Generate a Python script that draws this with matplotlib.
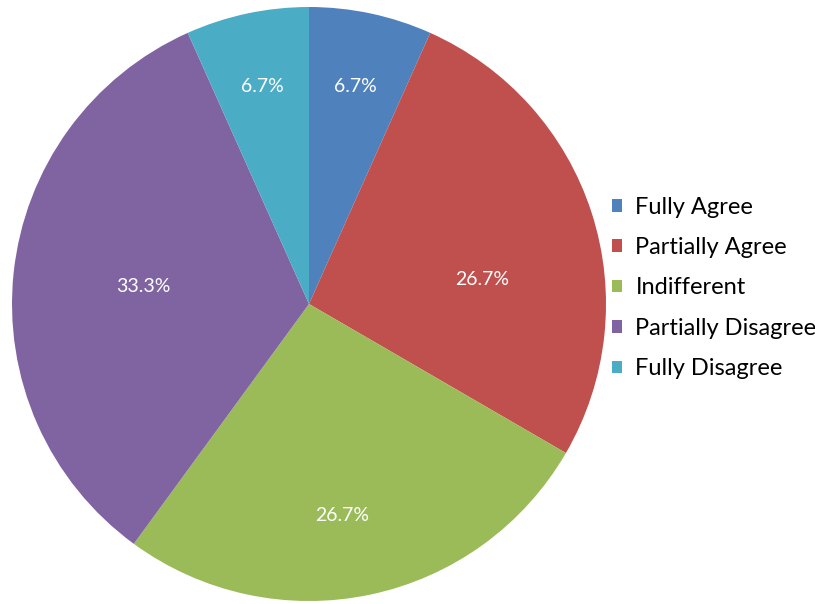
import numpy as np
import matplotlib
matplotlib.use("Agg")
import matplotlib.pyplot as plt

plt.rcParams['font.family'] = ['Lato', 'DejaVu Sans']

# Survey answers (share of respondents, %)
categories = ['Fully Agree', 'Partially Agree', 'Indifferent', 'Partially Disagree', 'Fully Disagree']
shares = [6.7, 26.7, 26.7, 33.3, 6.7]
colors = ['#4F81BD', '#C0504D', '#9BBB59', '#8064A2', '#4BACC6']

# label placement inside each wedge: fraction of radius, angle shift in degrees
label_r = [0.75, 0.59, 0.72, 0.56, 0.75]
label_shift = [0, -10, -3, 0, 0]

W, H = 815, 604
fig = plt.figure(figsize=(W / 100, H / 100), dpi=100)

# pie centre and radius in pixels
cx, cy, r = 309, 304, 297
ax = fig.add_axes([(cx - r) / W, (H - cy - r) / H, 2 * r / W, 2 * r / H])

wedges, _ = ax.pie(shares, colors=colors, startangle=90, counterclock=False,
                   radius=1.0, wedgeprops=dict(linewidth=0))
ax.set_xlim(-1, 1)
ax.set_ylim(-1, 1)
ax.set_aspect('equal')
ax.axis('off')

# percentage labels
for w, v, rr, sh in zip(wedges, shares, label_r, label_shift):
    mid = np.deg2rad((w.theta1 + w.theta2) / 2 + sh)
    ax.text(rr * np.cos(mid), rr * np.sin(mid), f'{v:.1f}%',
            ha='center', va='center', color='white', fontsize=14)

leg = fig.legend(wedges, categories, loc='center left',
                 bbox_to_anchor=(612 / W, 1 - 288 / H), frameon=False,
                 fontsize=17, handlelength=0.44, handleheight=0.44,
                 handletextpad=0.55, labelspacing=0.82, borderaxespad=0,
                 borderpad=0)

fig.savefig('out.png', dpi=100)
